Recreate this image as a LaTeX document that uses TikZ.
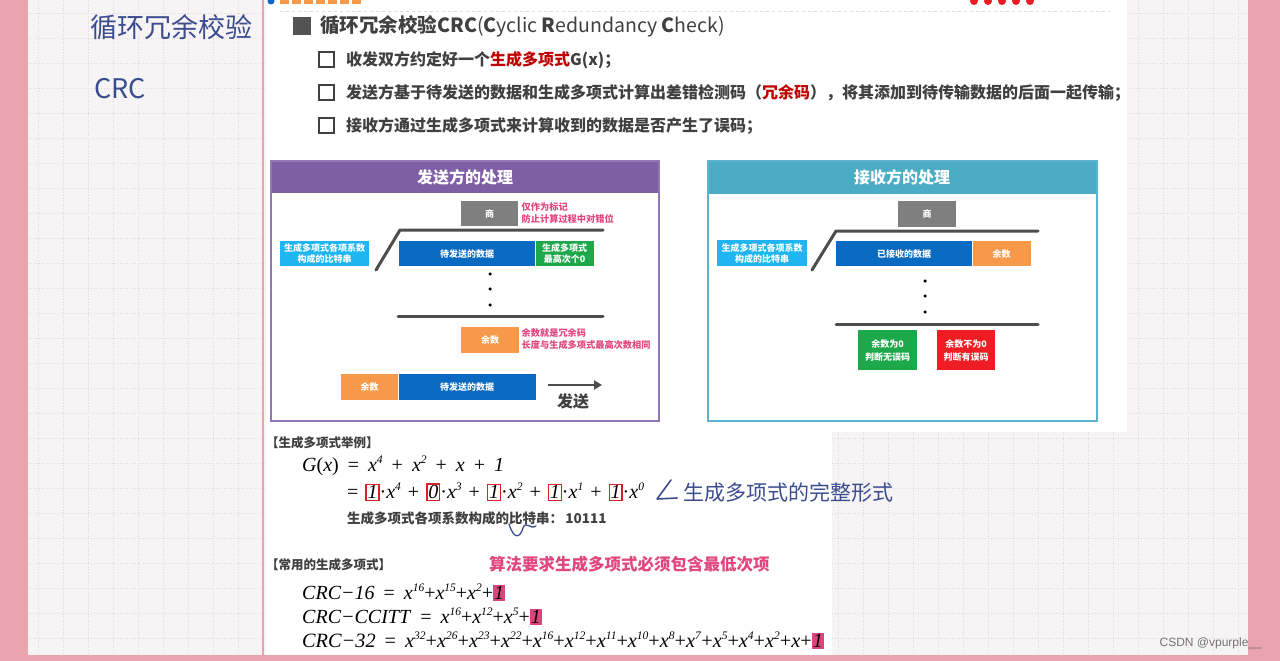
\documentclass[tikz,border=0pt]{standalone}
\usepackage{fontspec}
\usetikzlibrary{positioning,arrows.meta}
\setmainfont{Liberation Serif}
\newfontfamily\cjk{Noto Sans CJK SC}
\newfontfamily\wmsans{Liberation Sans}

\definecolor{pageside}{HTML}{E9A4AE}
\definecolor{pagebg}{HTML}{F6F4F4}
\definecolor{gridc}{HTML}{E4D9DB}
\definecolor{textgrey}{HTML}{404040}
\definecolor{titlered}{HTML}{C00000}
\definecolor{sendpurple}{HTML}{7E5FA6}
\definecolor{recvteal}{HTML}{4BACC6}
\definecolor{bitcyan}{HTML}{1FB5F0}
\definecolor{datablue}{HTML}{0A6AC1}
\definecolor{zerogreen}{HTML}{1EA84C}
\definecolor{remorange}{HTML}{F7994A}
\definecolor{quotgrey}{HTML}{7F7F7F}
\definecolor{errred}{HTML}{EE1D23}
\definecolor{notepink}{HTML}{E2467F}
\definecolor{bargrey}{HTML}{4D4D4D}
\definecolor{handblue}{HTML}{3B4C8F}
\definecolor{coefred}{HTML}{D42027}
\definecolor{hlpink}{HTML}{D9467E}

\newcommand{\xpow}[1]{\textit{x}\raisebox{0.42em}{\fontsize{11.5}{11.5}\selectfont\textit{#1}}}
\newcommand{\coefbox}[1]{{\setlength{\fboxsep}{0.8pt}\setlength{\fboxrule}{1.3pt}\fcolorbox{coefred}{white}{\textit{#1}}}}
\newcommand{\lowterm}{{\setlength{\fboxsep}{1pt}\colorbox{hlpink}{\textit{1}}}}
\newcommand{\fgap}{\hspace{9pt}}
\newcommand{\tgap}{\hspace{7pt}}

\begin{document}
\begin{tikzpicture}[
  x=1pt, y=-1pt,
  blockbox/.style={anchor=north west, inner sep=0pt, text=white, align=center, font=\cjk\bfseries\fontsize{9}{11}\selectfont},
  notetext/.style={anchor=north west, inner sep=1.5pt, align=left, text=notepink, fill=white, font=\cjk\bfseries\fontsize{9.2}{12}\selectfont},
  barline/.style={line width=3pt, draw=bargrey, line join=round, line cap=round},
  dotmark/.style={circle, fill=black, inner sep=0pt, minimum size=3.5pt},
  headtext/.style={text=white, font=\cjk\bfseries\fontsize{16}{19}\selectfont},
  bodytext/.style={anchor=west, inner sep=0pt, text=textgrey, font=\cjk\bfseries\fontsize{16}{19}\selectfont},
  formula/.style={anchor=west, inner sep=0pt, font=\fontsize{20}{24}\selectfont},
  handtext/.style={anchor=west, inner sep=0pt, text=handblue, font=\cjk\fontsize{27}{30}\selectfont},
  checkbox/.style={draw=textgrey, line width=1.4pt},
  gridline/.style={draw=gridc, line width=0.6pt, dotted}
]
  \useasboundingbox (0,0) rectangle (1280,661);

  % page
  \fill[pagebg] (0,0) rectangle (1280,661);
  \foreach \g in {13,38,...,1263} \draw[gridline] (\g,0) -- (\g,661);
  \foreach \g in {13,38,...,663} \draw[gridline] (0,\g) -- (1280,\g);
  \fill[pageside] (0,0) rectangle (28,661);
  \fill[pageside] (1248,0) rectangle (1280,661);
  \fill[pageside] (0,655) rectangle (1280,661);
  \fill[white] (266,0) rectangle (1127,432);
  \fill[white] (266,432) rectangle (832,655);
  \draw[pageside, line width=1.5pt] (263,0) -- (263,655);

  % top strip
  \fill[datablue] (271,1) circle (3.5pt);
  \foreach \i in {0,...,6} \fill[remorange] (280+\i*12,-3) rectangle (289+\i*12,4);
  \foreach \i in {0,...,4} \fill[errred] (974+\i*14,1) circle (4pt);
  \draw[gridc, line width=0.8pt, dashed] (280,11) -- (1110,11);

  % handwriting
  \node[handtext] (hw1) at (90,27) {循环冗余校验};
  \node[handtext] (hw2) at (94,89) {CRC};

  % title and bullets
  \fill[textgrey!90] (293,17) rectangle (311,35);
  \node[anchor=west, inner sep=0pt, text=textgrey, font=\cjk\fontsize{19.5}{23}\selectfont] (title) at (320,26)
    {\bfseries 循环冗余校验CRC\mdseries(\textbf{C}yclic \textbf{R}edundancy \textbf{C}heck)};
  \draw[checkbox] (319,52) rectangle (334,67);
  \draw[checkbox] (319,85) rectangle (334,100);
  \draw[checkbox] (319,118) rectangle (334,133);
  \node[bodytext] (b1) at (346,60) {收发双方约定好一个\textcolor{titlered}{生成多项式}G(x)；};
  \node[bodytext] (b2) at (346,93) {发送方基于待发送的数据和生成多项式计算出差错检测码（\textcolor{titlered}{冗余码}），将其添加到待传输数据的后面一起传输；};
  \node[bodytext] (b3) at (346,126) {接收方通过生成多项式来计算收到的数据是否产生了误码；};

  % sender panel
  \fill[sendpurple] (271,161) rectangle (659,193);
  \draw[sendpurple!85, line width=2.5pt] (271,161) rectangle (659,421);
  \node[headtext] (shead) at (465,177) {发送方的处理};
  \node[blockbox, fill=quotgrey, minimum width=57pt, minimum height=25pt] (squot) at (461,201) {商};
  \node[notetext] (snote1) at (520,201) {仅作为标记\\防止计算过程中对错位};
  \node[blockbox, fill=bitcyan, minimum width=89pt, minimum height=25pt] (sbits) at (280,241) {生成多项式各项系数\\构成的比特串};
  \node[blockbox, fill=datablue, minimum width=136pt, minimum height=25pt] (sdata) at (399,241) {待发送的数据};
  \node[blockbox, fill=zerogreen, minimum width=58pt, minimum height=25pt, anchor=west, right=0pt of sdata] (szero) {生成多项式\\最高次个0};
  \coordinate (sbarA) at (376,270);
  \coordinate (sbarB) at (400,230);
  \coordinate (sbarC) at (603,230);
  \draw[barline] (sbarA) -- (sbarB) -- (sbarC);
  \node[dotmark] (sdot1) at (490,274) {};
  \node[dotmark] (sdot2) at (490,289) {};
  \node[dotmark] (sdot3) at (490,305) {};
  \coordinate (sline1) at (398,316);
  \coordinate (sline2) at (603,316);
  \draw[barline] (sline1) -- (sline2);
  \node[blockbox, fill=remorange, minimum width=58pt, minimum height=26pt] (srem) at (461,327) {余数};
  \node[notetext] (snote2) at (520,327) {余数就是冗余码\\长度与生成多项式最高次数相同};
  \node[blockbox, fill=remorange, minimum width=57pt, minimum height=26pt] (orem) at (341,374) {余数};
  \node[blockbox, fill=datablue, minimum width=137pt, minimum height=26pt, anchor=west, right=0pt of orem] (odata) {待发送的数据};
  \coordinate (sarrA) at (548,385);
  \coordinate (sarrB) at (602,385);
  \draw[line width=2.5pt, bargrey, -{Triangle[length=8pt,width=9pt]}] (sarrA) -- (sarrB);
  \node[text=textgrey, font=\cjk\bfseries\fontsize{16}{19}\selectfont] (ssend) at (573,401) {发送};

  % receiver panel
  \fill[recvteal] (708,161) rectangle (1097,194);
  \draw[recvteal!90, line width=2.5pt] (708,161) rectangle (1097,421);
  \node[headtext] (rhead) at (902,177) {接收方的处理};
  \node[blockbox, fill=quotgrey, minimum width=58pt, minimum height=26pt] (rquot) at (898,201) {商};
  \node[blockbox, fill=bitcyan, minimum width=90pt, minimum height=26pt] (rbits) at (717,240) {生成多项式各项系数\\构成的比特串};
  \node[blockbox, fill=datablue, minimum width=136pt, minimum height=25pt] (rdata) at (836,241) {已接收的数据};
  \node[blockbox, fill=remorange, minimum width=58pt, minimum height=25pt, anchor=west, right=0pt of rdata] (rrem) {余数};
  \coordinate (rbarA) at (812,270);
  \coordinate (rbarB) at (836,231);
  \coordinate (rbarC) at (1038,231);
  \draw[barline] (rbarA) -- (rbarB) -- (rbarC);
  \node[dotmark] (rdot1) at (925,281) {};
  \node[dotmark] (rdot2) at (925,296) {};
  \node[dotmark] (rdot3) at (925,312) {};
  \coordinate (rline1) at (836,324);
  \coordinate (rline2) at (1038,324);
  \draw[barline] (rline1) -- (rline2);
  \node[blockbox, fill=zerogreen, minimum width=59pt, minimum height=40pt, font=\cjk\bfseries\fontsize{9}{13}\selectfont] (rok) at (858,330) {余数为0\\判断无误码};
  \node[blockbox, fill=errred, minimum width=58pt, minimum height=40pt, font=\cjk\bfseries\fontsize{9}{13}\selectfont] (rerr) at (937,330) {余数不为0\\判断有误码};

  % example polynomial
  \node[anchor=west, inner sep=0pt, text=textgrey, font=\cjk\bfseries\fontsize{12.5}{15}\selectfont] (exhead) at (266,443) {【生成多项式举例】};
  \node[formula] (gx1) at (302,466) {\textit{G}(\textit{x})\fgap=\fgap\xpow{4}\fgap+\fgap\xpow{2}\fgap+\fgap\textit{x}\fgap+\fgap\textit{1}};
  \node[formula] (gx2) at (347,492) {=\tgap\coefbox{1}·\xpow{4}\tgap+\tgap\coefbox{0}·\xpow{3}\tgap+\tgap\coefbox{1}·\xpow{2}\tgap+\tgap\coefbox{1}·\xpow{1}\tgap+\tgap\coefbox{1}·\xpow{0}};
  \node[anchor=west, inner sep=0pt, text=textgrey, font=\cjk\bfseries\fontsize{13.5}{16}\selectfont] (bitstr) at (347,518) {生成多项式各项系数构成的比特串：\,10111};
  \draw[handblue, line width=1.3pt, line cap=round] (509,524) .. controls (514,540) and (520,538) .. (523,528) .. controls (526,520) and (530,530) .. (536,526);
  \draw[handblue, line width=1.6pt, line cap=round, line join=round] (671,480) -- (657,499) -- (677,498);
  \node[handtext, font=\cjk\fontsize{21}{24}\selectfont] (hw3) at (683,492) {生成多项式的完整形式};

  % common polynomials
  \node[anchor=west, inner sep=0pt, text=textgrey, font=\cjk\bfseries\fontsize{12.5}{15}\selectfont] (cmhead) at (266,565) {【常用的生成多项式】};
  \node[anchor=west, inner sep=1pt, text=notepink, fill=white, font=\cjk\bfseries\fontsize{16.5}{19}\selectfont] (cmnote) at (488,564) {算法要求生成多项式必须包含最低次项};
  \node[formula] (crc16) at (302,592) {\textit{CRC−16}\fgap=\fgap\xpow{16}+\xpow{15}+\xpow{2}+\lowterm};
  \node[formula] (crcitt) at (302,616) {\textit{CRC−CCITT}\fgap=\fgap\xpow{16}+\xpow{12}+\xpow{5}+\lowterm};
  \node[formula, font=\fontsize{20.3}{24}\selectfont] (crc32) at (302,640) {\textit{CRC−32}\fgap=\fgap\xpow{32}+\xpow{26}+\xpow{23}+\xpow{22}+\xpow{16}+\xpow{12}+\xpow{11}+\xpow{10}+\xpow{8}+\xpow{7}+\xpow{5}+\xpow{4}+\xpow{2}+\textit{x}+\lowterm};

  % watermark
  \node[anchor=east, inner sep=0pt, text=black!55, font=\wmsans\fontsize{12}{14}\selectfont] (csdn) at (1262,643) {CSDN @vpurple\_\_};
\end{tikzpicture}
\end{document}
